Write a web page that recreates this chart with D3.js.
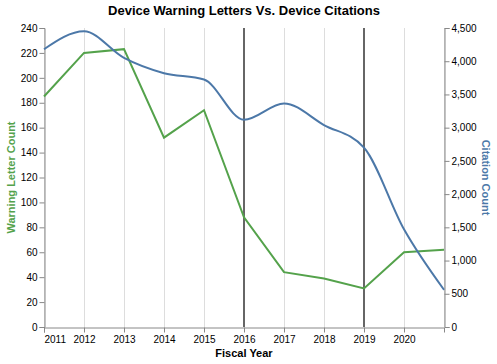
<!DOCTYPE html>
<html>
<head>
<meta charset="utf-8">
<script src="https://cdn.jsdelivr.net/npm/d3@7"></script>
<style>
  html, body { margin: 0; padding: 0; background: #fff; }
  svg { display: block; font-family: "Liberation Sans", Arial, Helvetica, sans-serif; }
</style>
</head>
<body>
<svg id="chart" width="497" height="364"></svg>
<script>
const years = [2011, 2012, 2013, 2014, 2015, 2016, 2017, 2018, 2019, 2020, 2021];
const warningLetters = [185, 220, 223, 152, 174, 88, 44, 39, 31, 60, 62];
const citations = [4180, 4450, 4050, 3820, 3725, 3120, 3365, 3040, 2700, 1470, 560];
const xTickYears = [2011, 2012, 2013, 2014, 2015, 2016, 2017, 2018, 2019, 2020];
const leftTicks = [0, 20, 40, 60, 80, 100, 120, 140, 160, 180, 200, 220, 240];
const rightTicks = [0, 500, 1000, 1500, 2000, 2500, 3000, 3500, 4000, 4500];
const ruleYears = [2016, 2019];

const margin = { left: 44, right: 53, top: 28, bottom: 37 };
const W = 497, H = 364;
const svg = d3.select("#chart");
const g = svg.append("g");

const x = d3.scaleLinear().domain([2011, 2021]).range([margin.left, W - margin.right]);
const yL = d3.scaleLinear().domain([0, 240]).range([H - margin.bottom, margin.top]);
const yR = d3.scaleLinear().domain([0, 4500]).range([H - margin.bottom, margin.top]);

const green = "#54a24b", blue = "#4c78a8";

// vertical grid
g.append("g").selectAll("line").data(xTickYears.concat([2021])).join("line")
  .attr("x1", d => x(d) + 0.5).attr("x2", d => x(d) + 0.5)
  .attr("y1", yL(240)).attr("y2", yL(0))
  .attr("stroke", "#ddd").attr("stroke-width", 1);

// x axis
const xAxis = g.append("g").attr("transform", `translate(0,${yL(0)+0.5})`)
  .call(d3.axisBottom(x).tickValues(xTickYears).tickFormat(d3.format("d")).tickSizeOuter(0).tickSize(5).tickPadding(3));
xAxis.select(".domain").attr("stroke", "#888");
xAxis.selectAll(".tick line").attr("stroke", "#888");
xAxis.selectAll(".tick text").attr("font-size", 10).attr("fill", "#000")
  .attr("font-family", "Liberation Sans, Arial, sans-serif")
  .attr("text-anchor", (d, i) => i === 0 ? "start" : "middle");

// left axis
const lAxis = g.append("g").attr("transform", `translate(${x(2011)+0.5},0)`)
  .call(d3.axisLeft(yL).tickValues(leftTicks).tickSizeOuter(0).tickSize(5).tickPadding(2));
lAxis.select(".domain").attr("stroke", "#888");
lAxis.selectAll(".tick line").attr("stroke", "#888");
lAxis.selectAll(".tick text").attr("font-size", 10).attr("fill", "#000")
  .attr("font-family", "Liberation Sans, Arial, sans-serif");

// right axis
const rAxis = g.append("g").attr("transform", `translate(${x(2021)+0.5},0)`)
  .call(d3.axisRight(yR).tickValues(rightTicks).tickFormat(d3.format(",")).tickSizeOuter(0).tickSize(5).tickPadding(2));
rAxis.select(".domain").attr("stroke", "#888");
rAxis.selectAll(".tick line").attr("stroke", "#888");
rAxis.selectAll(".tick text").attr("font-size", 10).attr("fill", "#000")
  .attr("font-family", "Liberation Sans, Arial, sans-serif");

// rules
g.append("g").selectAll("line").data(ruleYears).join("line")
  .attr("x1", d => x(d)).attr("x2", d => x(d))
  .attr("y1", yL(240)).attr("y2", yL(0))
  .attr("stroke", "#666").attr("stroke-width", 2);

// lines
const idx = d3.range(years.length);
g.append("path").datum(idx)
  .attr("fill", "none").attr("stroke", green).attr("stroke-width", 2)
  .attr("d", d3.line().x(i => x(years[i])).y(i => yL(warningLetters[i])));
g.append("path").datum(idx)
  .attr("fill", "none").attr("stroke", blue).attr("stroke-width", 2)
  .attr("d", d3.line().curve(d3.curveMonotoneX).x(i => x(years[i])).y(i => yR(citations[i])));

// titles
svg.append("text").attr("x", (x(2011) + x(2021)) / 2).attr("y", 15)
  .attr("text-anchor", "middle").attr("font-size", 13).attr("font-weight", "bold")
  .attr("fill", "#000").text("Device Warning Letters Vs. Device Citations");
svg.append("text").attr("x", (x(2011) + x(2021)) / 2).attr("y", 357)
  .attr("text-anchor", "middle").attr("font-size", 11).attr("font-weight", "bold")
  .attr("fill", "#000").text("Fiscal Year");
svg.append("text").attr("transform", `translate(15,${(yL(0)+yL(240))/2}) rotate(-90)`)
  .attr("text-anchor", "middle").attr("font-size", 11).attr("font-weight", "bold")
  .attr("fill", green).text("Warning Letter Count");
svg.append("text").attr("transform", `translate(482,${(yL(0)+yL(240))/2}) rotate(90)`)
  .attr("text-anchor", "middle").attr("font-size", 11).attr("font-weight", "bold")
  .attr("fill", blue).text("Citation Count");
</script>
</body>
</html>
